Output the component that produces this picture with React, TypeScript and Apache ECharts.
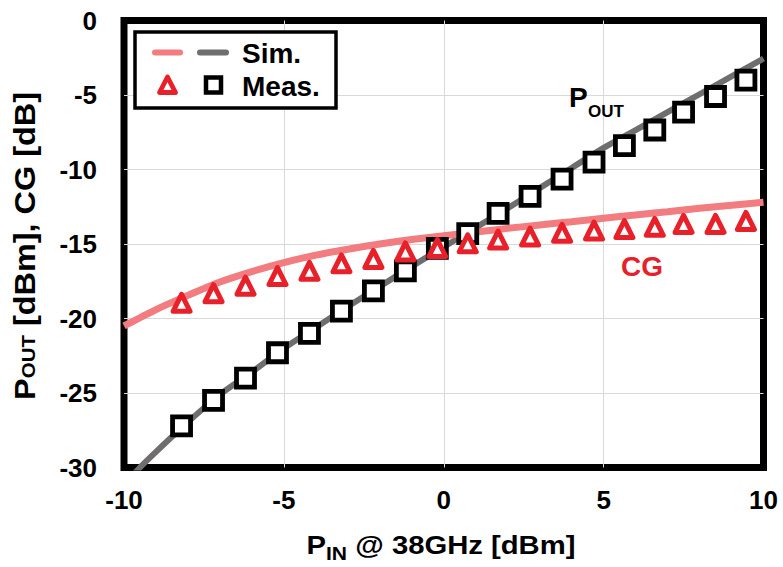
import React, { useEffect, useRef } from "react";
import * as echarts from "echarts";

const FONT = "'Liberation Sans', Arial, sans-serif";

// Measured data (markers)
const pinMeas = [-8.2, -7.2, -6.2, -5.2, -4.2, -3.2, -2.2, -1.2, -0.2, 0.75, 1.7, 2.7, 3.7, 4.7, 5.65, 6.6, 7.5, 8.5, 9.45];
const poutMeas = [-27.2, -25.5, -24.0, -22.3, -21.0, -19.5, -18.15, -16.8, -15.3, -14.3, -12.95, -11.8, -10.65, -9.5, -8.4, -7.35, -6.15, -5.1, -4.0];
const cgMeas = [-18.95, -18.3, -17.8, -17.15, -16.8, -16.3, -16.0, -15.5, -15.27, -14.95, -14.7, -14.5, -14.25, -14.1, -14.0, -13.85, -13.65, -13.65, -13.45];

// Simulated data (lines)
const pinSim = [-10, -9.5, -9, -8, -7, -6, -5, -4, -3, -2, -1, 0, 1, 2, 3, 4, 5, 6, 7, 8, 9, 10];
const poutSim = [-31.2, -30.0, -28.95, -26.95, -25.1, -23.6, -22.0, -20.6, -19.2, -17.85, -16.5, -15.2, -13.9, -12.6, -11.25, -9.9, -8.55, -7.35, -6.15, -4.95, -3.75, -2.55];
const cgSim = [-20.5, -19.95, -19.4, -18.45, -17.55, -16.85, -16.25, -15.75, -15.35, -15.0, -14.7, -14.45, -14.2, -13.95, -13.72, -13.5, -13.27, -13.05, -12.83, -12.6, -12.4, -12.2];

const xTicks = { min: -10, max: 10, interval: 5 };
const yTicks = { min: -30, max: 0, interval: 5 };

const xTitle = "{a|P}{b|IN}{a| @ 38GHz [dBm]}";
const yTitle = "{a|P}{b|OUT}{a| [dBm], CG [dB]}";

const RED = "#E8202A";
const PINK = "#F27C80";
const GREY = "#6F6D6D";

const zip = (xs: number[], ys: number[]) => xs.map((x, i) => [x, ys[i]]);

export default function App() {
  const ref = useRef<HTMLDivElement>(null);
  useEffect(() => {
    if (!ref.current) return;
    const chart = echarts.init(ref.current, undefined, { renderer: "svg" });
    const labelStyle = { fontSize: 26, fontWeight: "bold", color: "#000", fontFamily: FONT };
    const richX = {
      a: { fontSize: 25, fontWeight: "bold", fill: "#000", fontFamily: FONT },
      b: { fontSize: 18, fontWeight: "bold", fill: "#000", fontFamily: FONT, verticalAlign: "bottom", lineHeight: 36 },
    };
    const richY = {
      a: { fontSize: 30, fontWeight: "bold", fill: "#000", fontFamily: FONT, lineHeight: 26 },
      b: { fontSize: 19, fontWeight: "bold", fill: "#000", fontFamily: FONT, verticalAlign: "bottom" },
    };
    chart.setOption({
      animation: false,
      grid: { left: 124, right: 19.5, top: 20.5, bottom: 99.5, show: true, borderColor: "#000", borderWidth: 7 },
      xAxis: {
        type: "value",
        ...xTicks,
        axisLine: { show: false },
        axisTick: { show: false },
        splitLine: { show: true, showMinLine: false, showMaxLine: false, lineStyle: { color: "#D9D9D9", width: 1 } },
        axisLabel: { ...labelStyle, margin: 19 },
      },
      yAxis: {
        type: "value",
        ...yTicks,
        axisLine: { show: false },
        axisTick: { show: false },
        splitLine: { show: true, showMinLine: false, showMaxLine: false, lineStyle: { color: "#D9D9D9", width: 1 } },
        axisLabel: { ...labelStyle, margin: 27 },
      },
      series: [
        {
          type: "line",
          data: zip(pinSim, poutSim),
          showSymbol: false,
          smooth: 0.3,
          lineStyle: { color: GREY, width: 6 },
          z: 2,
        },
        {
          type: "line",
          data: zip(pinSim, cgSim),
          showSymbol: false,
          smooth: 0.3,
          lineStyle: { color: PINK, width: 7 },
          z: 3,
        },
        {
          type: "scatter",
          data: zip(pinMeas, poutMeas),
          symbol: "rect",
          symbolSize: 18,
          itemStyle: { color: "#fff", borderColor: "#000", borderWidth: 4.8, opacity: 1 },
          z: 4,
        },
        {
          type: "scatter",
          data: zip(pinMeas, cgMeas),
          symbol: "triangle",
          symbolSize: 17,
          itemStyle: { color: "#fff", borderColor: RED, borderWidth: 5, borderJoin: "round", opacity: 1 },
          z: 5,
        },
      ],
      graphic: [
        {
          type: "text",
          x: 441,
          y: 545,
          scaleX: 1.17,
          style: { text: xTitle, rich: richX, textAlign: "center", textVerticalAlign: "middle" },
          z: 50,
        },
        {
          type: "text",
          x: 25,
          y: 246,
          rotation: Math.PI / 2,
          scaleX: 1.08,
          style: { text: yTitle, rich: richY, textAlign: "center", textVerticalAlign: "middle" },
          z: 50,
        },
        {
          type: "rect",
          shape: { x: 135, y: 32, width: 201, height: 76 },
          style: { fill: "#fff", stroke: "#000", lineWidth: 3.5 },
          z: 100,
        },
        {
          type: "line",
          shape: { x1: 155, y1: 52.5, x2: 180, y2: 52.5 },
          style: { stroke: PINK, lineWidth: 6, lineCap: "round" },
          z: 101,
        },
        {
          type: "line",
          shape: { x1: 200, y1: 52.5, x2: 226, y2: 52.5 },
          style: { stroke: GREY, lineWidth: 6, lineCap: "round" },
          z: 101,
        },
        {
          type: "text",
          x: 242,
          y: 53,
          style: { text: "Sim.", font: `bold 28px ${FONT}`, fill: "#000", textAlign: "left", textVerticalAlign: "middle" },
          z: 101,
        },
        {
          type: "polygon",
          shape: { points: [[167.5, 77], [175.5, 92.5], [159.5, 92.5]] },
          style: { fill: "#fff", stroke: RED, lineWidth: 4.8, lineJoin: "round" },
          z: 101,
        },
        {
          type: "rect",
          shape: { x: 206, y: 77.5, width: 15, height: 15 },
          style: { fill: "#fff", stroke: "#000", lineWidth: 4.5 },
          z: 101,
        },
        {
          type: "text",
          x: 242,
          y: 86,
          style: { text: "Meas.", font: `bold 28px ${FONT}`, fill: "#000", textAlign: "left", textVerticalAlign: "middle" },
          z: 101,
        },
        {
          type: "text",
          x: 569,
          y: 97,
          style: { text: "P", font: `bold 28px ${FONT}`, fill: "#000", textAlign: "left", textVerticalAlign: "middle" },
          z: 101,
        },
        {
          type: "text",
          x: 588,
          y: 111,
          style: { text: "OUT", font: `bold 17px ${FONT}`, fill: "#000", textAlign: "left", textVerticalAlign: "middle" },
          z: 101,
        },
        {
          type: "text",
          x: 642,
          y: 266,
          style: { text: "CG", font: `bold 28px ${FONT}`, fill: RED, textAlign: "center", textVerticalAlign: "middle" },
          z: 101,
        },
      ],
    });
    return () => chart.dispose();
  }, []);
  return <div ref={ref} style={{ width: 783, height: 567, position: "absolute", left: 0, top: 0 }} />;
}
